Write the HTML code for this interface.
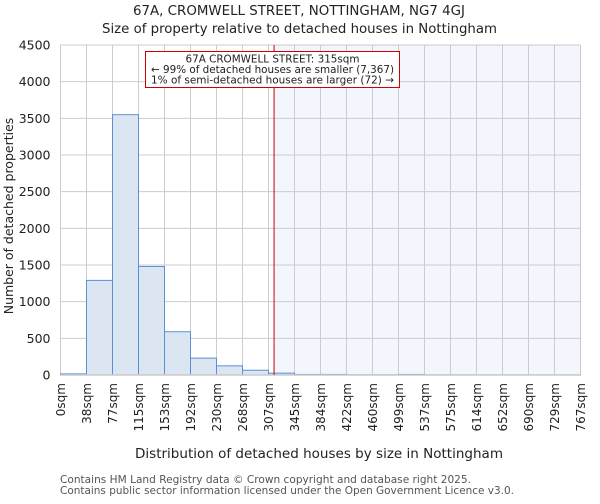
<!DOCTYPE html>
<html><head><meta charset="utf-8"><style>
body{margin:0;background:#fff;font-family:"DejaVu Sans","Liberation Sans",sans-serif}
svg text{font-family:"DejaVu Sans","Liberation Sans",sans-serif}
</style></head><body>
<svg id="c" width="600" height="500" xmlns="http://www.w3.org/2000/svg">
<text x="133" y="15" textLength="332" lengthAdjust="spacingAndGlyphs" font-size="13" fill="#222">67A, CROMWELL STREET, NOTTINGHAM, NG7 4GJ</text>
<text x="102" y="33" textLength="395" lengthAdjust="spacingAndGlyphs" font-size="13" fill="#222">Size of property relative to detached houses in Nottingham</text>
<g id="plot"></g>
<text x="135" y="458" textLength="368" lengthAdjust="spacingAndGlyphs" font-size="13" fill="#222">Distribution of detached houses by size in Nottingham</text>
<text transform="translate(13,216) rotate(-90)" text-anchor="middle" font-size="12.5" fill="#222">Number of detached properties</text>
<text x="60" y="483" textLength="411" lengthAdjust="spacingAndGlyphs" font-size="10.5" fill="#555">Contains HM Land Registry data © Crown copyright and database right 2025.</text>
<text x="60" y="494" textLength="454" lengthAdjust="spacingAndGlyphs" font-size="10.5" fill="#555">Contains public sector information licensed under the Open Government Licence v3.0.</text>
</svg>
<script>
const categories=["0sqm","38sqm","77sqm","115sqm","153sqm","192sqm","230sqm","268sqm","307sqm","345sqm","384sqm","422sqm","460sqm","499sqm","537sqm","575sqm","614sqm","652sqm","690sqm","729sqm","767sqm"];
const counts=[15,1290,3550,1480,590,230,125,65,25,8,8,3,3,8,2,2,1,1,1,1];
const yTicks=[0,500,1000,1500,2000,2500,3000,3500,4000,4500];
const propertySize=315;
const binWidthSqm=38.35;
const NS="http://www.w3.org/2000/svg";
const L=60.5,R=580.5,T=45,B=375,yMax=4500;
const bw=(R-L)/counts.length;
const xs=i=>L+i*bw;
const ys=v=>B-v/yMax*(B-T);
const xv=s=>L+s/binWidthSqm*bw;
const g=document.getElementById('plot');
function mk(t,a){const e=document.createElementNS(NS,t);for(const k in a)e.setAttribute(k,a[k]);g.appendChild(e);return e;}
const lx=xv(propertySize);
let e=mk('rect',{x:lx,y:T,width:R-lx,height:B-T,fill:'#f3f6fd'});


for(let i=0;i<categories.length;i++){
 e=mk('line',{x1:xs(i),x2:xs(i),y1:T,y2:B,stroke:'#ccc','stroke-width':1});
 
 
 e=mk('text',{transform:`translate(${xs(i)+4.5},383) rotate(-90)`,'text-anchor':'end','font-size':12,fill:'#222'});
 e.textContent=categories[i];
 
 
}
yTicks.forEach(v=>{
 e=mk('line',{x1:L,x2:R,y1:ys(v),y2:ys(v),stroke:'#ccc','stroke-width':1});
 
 
 e=mk('text',{x:L-10,y:ys(v)+4.5,'text-anchor':'end','font-size':12.5,fill:'#222'});
 e.textContent=v;
 
 
});
counts.forEach((v,i)=>{
 e=mk('rect',{x:xs(i),y:ys(v),width:bw,height:B-ys(v),fill:xs(i)>=lx?'#e3eaf6':'#dce6f3',stroke:'#5b8fd6','stroke-width':1});
 
 
});
e=mk('line',{x1:L,x2:R,y1:B,y2:B,stroke:'#ccc','stroke-width':1.5});


e=mk('line',{x1:lx,x2:lx,y1:T,y2:B,stroke:'#cc0000','stroke-width':1});


e=mk('rect',{x:145.5,y:51.5,width:254,height:36,fill:'#fff',stroke:'#cc0000','stroke-width':1});


const annLines=["67A CROMWELL STREET: 315sqm","← 99% of detached houses are smaller (7,367)","1% of semi-detached houses are larger (72) →"];
const annLens=[174,243,243];
annLines.forEach((t,i)=>{
 e=mk('text',{x:272.5-annLens[i]/2,y:62.5+i*10.5,textLength:annLens[i],lengthAdjust:'spacingAndGlyphs','font-size':10.5,fill:'#222'});
 e.textContent=t;
 
 
});
</script>
</body></html>
